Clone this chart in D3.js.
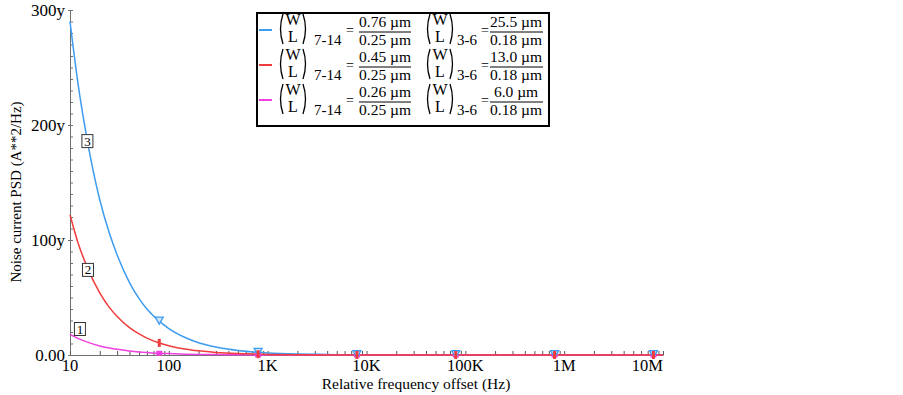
<!DOCTYPE html>
<html>
<head>
<meta charset="utf-8">
<script src="https://cdn.jsdelivr.net/npm/d3@7"></script>
<style>
  body { margin: 0; background: #fff; }
  svg { display: block; font-family: "Liberation Serif", "Times New Roman", serif; }
</style>
</head>
<body>
<div id="chart"></div>
<script>
// frequency grid (Hz) and noise PSD for the three sizings (in yA^2/Hz)
var freqs = [10, 12, 15, 20, 25, 30, 40, 50, 60, 80, 100, 150, 200, 300, 500, 800,
             1e3, 2e3, 3e3, 5e3, 1e4, 1e5, 1e6, 1e7];
var blueVals = [290, 237, 186, 135, 106, 87, 63, 49, 40, 29.4, 23, 14.8, 10.7, 6.9, 3.9, 2.3,
                1.8, 0.9, 0.6, 0.3, 0.2, 0.2, 0.3, 0.3];
var redVals = [122, 98, 76, 54, 41.4, 33.4, 23.8, 18.3, 14.7, 10.5, 8.1, 5.0, 3.6, 2.2, 1.2, 0.7,
               0.5, 0.2, 0.1, 0, 0, 0, 0, 0];
var pinkVals = [18, 14.5, 11.2, 7.9, 6.1, 4.9, 3.5, 2.7, 2.2, 1.5, 1.2, 0.74, 0.52, 0.33, 0.18, 0.1,
                0.08, 0.04, 0.02, 0, 0, 0, 0, 0];

// marker frequencies
var markFreqs = [80, 800, 8e3, 8e4, 8e5, 8e6];

// numbered curve labels
var annoText = ["1", "2", "3"];
var annoFreq = [12.6, 15.2, 15.0];
var annoVal = [22.6, 74, 186];

// axis ticks
var xTicks = [10, 100, 1e3, 1e4, 1e5, 1e6, 1e7];
var xTickLabels = ["10", "100", "1K", "10K", "100K", "1M", "10M"];
var yTicks = [0, 100, 200, 300];
var yTickLabels = ["0.00", "100y", "200y", "300y"];

// legend entries
var legendColors = ["#3d9cf0", "#f03c3c", "#f040e0"];
var legendW714 = ["0.76 µm", "0.45 µm", "0.26 µm"];
var legendL714 = ["0.25 µm", "0.25 µm", "0.25 µm"];
var legendW36 = ["25.5 µm", "13.0 µm", "6.0 µm"];
var legendL36 = ["0.18 µm", "0.18 µm", "0.18 µm"];

var width = 903, height = 395;
var svg = d3.select("#chart").append("svg")
    .attr("width", width)
    .attr("height", height);

var x = d3.scaleLog().domain([10, 1e7]).range([70, 663]);
var y = d3.scaleLinear().domain([0, 300]).range([355, 10]);

var axisColor = "#707070";

// y axis: minor ticks to the right, labelled majors to the left
var yMinor = d3.range(0, 301, 10);
var yAxisG = svg.append("g").attr("transform", "translate(70,0)");
yAxisG.call(d3.axisRight(y).tickValues(yMinor).tickSize(3).tickFormat(""));
var yLab = svg.append("g").attr("transform", "translate(70,0)");
yLab.call(d3.axisLeft(y).tickValues(yTicks).tickSize(2).tickPadding(3)
    .tickFormat(function (d, i) { return yTickLabels[i]; }));
[yAxisG, yLab].forEach(function (g) {
    g.selectAll("path").attr("stroke", axisColor);
    g.selectAll("line").attr("stroke", axisColor);
});
yLab.selectAll("text")
    .attr("fill", "#000")
    .style("font-family", "Liberation Serif")
    .style("font-size", "17px");
yLab.selectAll(".domain").remove();

// x axis: minor ticks pointing up, labelled decades
var xMinor = [];
xTicks.forEach(function (d) {
    for (var k = 1; k < 10; k++) if (d * k <= 1e7) xMinor.push(d * k);
});
var xAxisG = svg.append("g").attr("transform", "translate(0,355)");
xAxisG.call(d3.axisTop(x).tickValues(xMinor).tickSize(4).tickFormat("").tickSizeOuter(0));
xAxisG.selectAll("path").attr("stroke", axisColor);
xAxisG.selectAll("line").attr("stroke", "#555");

var xLab = svg.append("g");
xLab.selectAll("text")
    .data(xTicks)
    .join("text")
    .attr("x", function (d) { return x(d); })
    .attr("y", 371)
    .attr("text-anchor", function (d, i) { return i === xTicks.length - 1 ? "end" : "middle"; })
    .style("font-size", "16.5px")
    .text(function (d, i) { return xTickLabels[i]; });

// axis titles
svg.append("text")
    .attr("x", 416)
    .attr("y", 389)
    .attr("text-anchor", "middle")
    .style("font-size", "15.5px")
    .text("Relative frequency offset (Hz)");
svg.append("text")
    .attr("transform", "translate(21,192) rotate(-90)")
    .attr("text-anchor", "middle")
    .style("font-size", "15px")
    .text("Noise current PSD (A**2/Hz)");

// curves
var line = d3.line()
    .x(function (d) { return x(d[0]); })
    .y(function (d) { return y(d[1]); })
    .curve(d3.curveMonotoneX);

function series(vals) {
    return freqs.map(function (f, i) { return [f, vals[i]]; });
}
function interp(vals, f) {
    for (var i = 0; i < freqs.length - 1; i++) {
        if (f >= freqs[i] && f <= freqs[i + 1]) {
            var t = (Math.log(f) - Math.log(freqs[i])) / (Math.log(freqs[i + 1]) - Math.log(freqs[i]));
            return vals[i] + t * (vals[i + 1] - vals[i]);
        }
    }
    return vals[vals.length - 1];
}

var curves = svg.append("g").attr("fill", "none").attr("stroke-width", 1.5);
curves.append("path").datum(series(blueVals)).attr("d", line).attr("stroke", legendColors[0]);
curves.append("path").datum(series(pinkVals)).attr("d", line).attr("stroke", legendColors[2]);
curves.append("path").datum(series(redVals)).attr("d", line).attr("stroke", legendColors[1]);

// markers
var marks = svg.append("g");
marks.selectAll(".pm")
    .data(markFreqs)
    .join("rect")
    .attr("x", function (d) { return x(d) - 3; })
    .attr("y", function (d) { return y(interp(pinkVals, d)) - 2.5; })
    .attr("width", 6).attr("height", 5)
    .attr("fill", legendColors[2]);
marks.selectAll(".bm")
    .data(markFreqs)
    .join("path")
    .attr("d", function (d) {
        var cx = x(d), cy = y(interp(blueVals, d)) - 1;
        return "M" + (cx - 4) + "," + (cy - 3) + "L" + (cx + 4) + "," + (cy - 3) + "L" + cx + "," + (cy + 4) + "Z";
    })
    .attr("fill", "#cfe6fb")
    .attr("stroke", legendColors[0])
    .attr("stroke-width", 1.3);
marks.selectAll(".rm")
    .data(markFreqs)
    .join("rect")
    .attr("x", function (d) { return x(d) - 1.5; })
    .attr("y", function (d) { return y(interp(redVals, d)) - 4; })
    .attr("width", 3).attr("height", 8)
    .attr("fill", legendColors[1]);

// numbered boxes
var anno = svg.append("g");
annoText.forEach(function (t, i) {
    var cx = x(annoFreq[i]), cy = y(annoVal[i]);
    anno.append("rect")
        .attr("x", cx - 5.5).attr("y", cy - 6.5)
        .attr("width", 11).attr("height", 13)
        .attr("fill", "#fff")
        .attr("stroke", "#333")
        .attr("stroke-width", 1);
    anno.append("text")
        .attr("x", cx).attr("y", cy + 4.5)
        .attr("text-anchor", "middle")
        .style("font-size", "13px")
        .text(t);
});

// legend
var leg = svg.append("g");
leg.append("rect")
    .attr("x", 257).attr("y", 13)
    .attr("width", 292).attr("height", 113)
    .attr("fill", "#fff")
    .attr("stroke", "#000")
    .attr("stroke-width", 2);

function paren(g, px, cy, open) {
    var dx = open ? -5 : 5;
    g.append("path")
        .attr("d", "M" + px + "," + (cy - 16) + "Q" + (px + dx) + "," + (cy - 1) + " " + px + "," + (cy + 14))
        .attr("fill", "none")
        .attr("stroke", "#000")
        .attr("stroke-width", 1.3);
}
function ratio(g, cx, cy, sub, subX) {
    paren(g, cx - 10, cy, true);
    g.append("text").attr("x", cx).attr("y", cy - 5).attr("text-anchor", "middle").style("font-size", "16px").text("W");
    g.append("text").attr("x", cx).attr("y", cy + 12).attr("text-anchor", "middle").style("font-size", "16px").text("L");
    paren(g, cx + 10, cy, false);
    g.append("text").attr("x", subX).attr("y", cy + 15).style("font-size", "15px").text(sub);
}
function frac(g, cx, cy, num, den, x0, x1) {
    g.append("text").attr("x", cx).attr("y", cy - 3).attr("text-anchor", "middle").style("font-size", "15.5px").text(num);
    g.append("line").attr("x1", x0).attr("x2", x1).attr("y1", cy + 2).attr("y2", cy + 2)
        .attr("stroke", "#000").attr("stroke-width", 1);
    g.append("text").attr("x", cx).attr("y", cy + 15).attr("text-anchor", "middle").style("font-size", "15.5px").text(den);
}

legendColors.forEach(function (c, i) {
    var cy = 30 + i * 35;
    var row = leg.append("g");
    row.append("line")
        .attr("x1", 259).attr("x2", 272).attr("y1", cy).attr("y2", cy)
        .attr("stroke", c).attr("stroke-width", 2);
    ratio(row, 293, cy, "7-14", 314);
    row.append("text").attr("x", 350).attr("y", cy + 5).attr("text-anchor", "middle").style("font-size", "14px").text("=");
    frac(row, 385, cy, legendW714[i], legendL714[i], 359, 411);
    ratio(row, 440, cy, "3-6", 457);
    row.append("text").attr("x", 485).attr("y", cy + 5).attr("text-anchor", "middle").style("font-size", "14px").text("=");
    frac(row, 516, cy, legendW36[i], legendL36[i], 490, 543);
});
</script>
</body>
</html>
